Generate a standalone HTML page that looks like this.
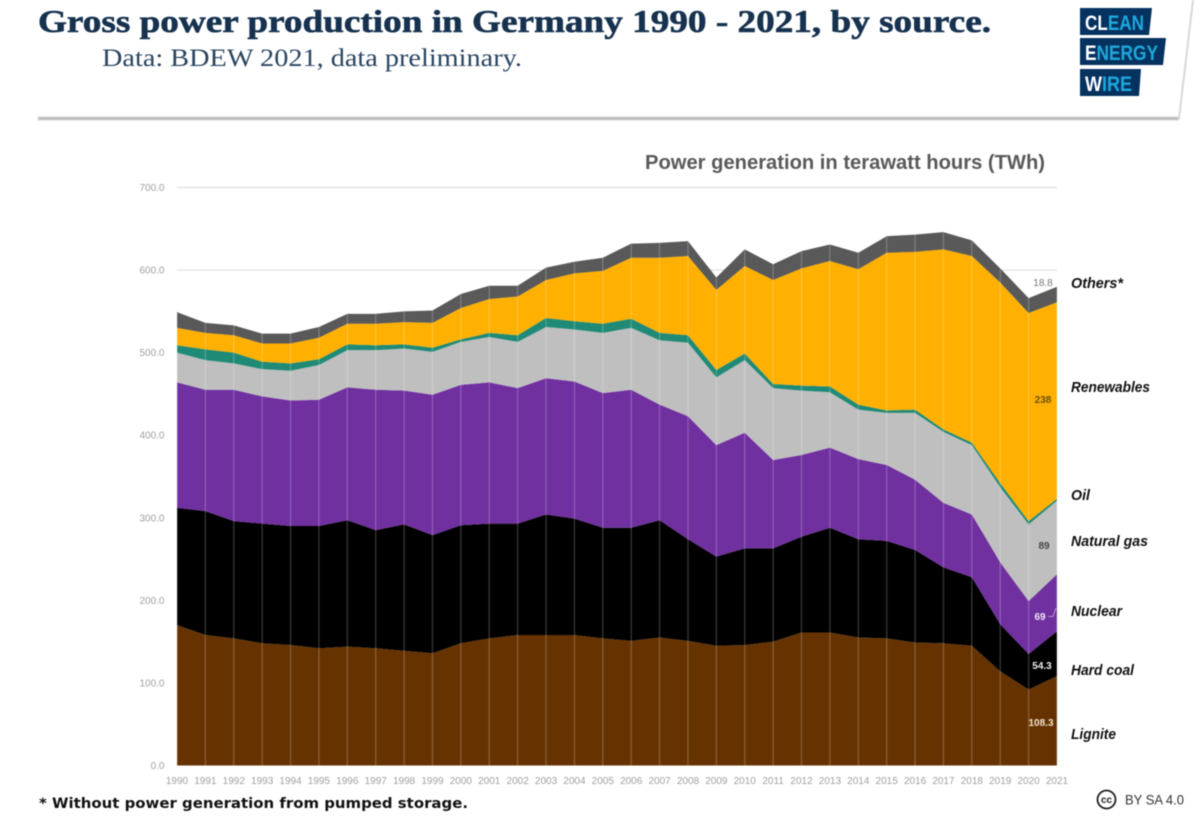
<!DOCTYPE html>
<html lang="en">
<head>
<meta charset="utf-8">
<title>Gross power production in Germany 1990 - 2021, by source</title>
<style>
html,body{margin:0;padding:0;background:#fff;width:1200px;height:817px;overflow:hidden}
svg{display:block;filter:blur(0.45px)}
text{font-family:"Liberation Sans",sans-serif}
.serif{font-family:"Liberation Serif",serif}
.lbl{font-weight:bold;font-style:italic;font-size:14.5px;fill:#111}
.tick{font-size:10px;fill:#a0a0a0}
.val{font-size:10px;font-weight:bold;text-anchor:middle}
</style>
</head>
<body>
<svg id="chart" xmlns="http://www.w3.org/2000/svg" width="1200" height="817" viewBox="0 0 1200 817">
  <defs>
    <filter id="soft" filterUnits="userSpaceOnUse" x="0" y="100" width="1200" height="40"><feGaussianBlur stdDeviation="0.8"/></filter>
  </defs>
  <rect width="1200" height="817" fill="#fff"/>
  <rect x="38" y="117" width="1141" height="3" fill="#b4b4b4" filter="url(#soft)"/>
  <path d="M1179 118.5L1193 0" fill="none" stroke="#d8d8d8" stroke-width="2"/>
  <text class="serif" x="38" y="32" font-size="32" font-weight="bold" fill="#16324f" stroke="#16324f" stroke-width="0.6" textLength="953" lengthAdjust="spacingAndGlyphs">Gross power production in Germany 1990 - 2021, by source.</text>
  <text class="serif" x="102" y="66" font-size="25" fill="#2a4560" textLength="420" lengthAdjust="spacingAndGlyphs">Data: BDEW 2021, data preliminary.</text>

  <g>
    <polygon points="1080,8 1152,8 1149,35 1080,35" fill="#06325f"/>
    <polygon points="1080,38 1166,38 1163,65 1080,65" fill="#06325f"/>
    <polygon points="1080,69 1141,69 1139,96 1080,96" fill="#06325f"/>
    <text x="1085" y="30" font-size="21" font-weight="bold" fill="#1ea8dd" textLength="59" lengthAdjust="spacingAndGlyphs"><tspan fill="#fff">CL</tspan>EAN</text>
    <text x="1085" y="60" font-size="21" font-weight="bold" fill="#1ea8dd" textLength="73" lengthAdjust="spacingAndGlyphs"><tspan fill="#fff">E</tspan>NERGY</text>
    <text x="1085" y="91" font-size="21" font-weight="bold" fill="#1ea8dd" textLength="47" lengthAdjust="spacingAndGlyphs"><tspan fill="#fff">W</tspan>IRE</text>
  </g>

  <text x="645" y="169" font-size="20" font-weight="bold" fill="#595959" textLength="400" lengthAdjust="spacingAndGlyphs">Power generation in terawatt hours (TWh)</text>

  <g id="grid"></g>
  <g id="yticks"></g>
  <g id="areas"></g>
  <g id="drops"></g>
  <g id="xticks"></g>

  <g>
    <text class="val" x="1043" y="286" style="font-weight:normal" fill="#777">18.8</text>
    <text class="val" x="1043" y="403" fill="#6b5210">238</text>
    <text class="val" x="1044" y="549" fill="#444">89</text>
    <text class="val" x="1040" y="620" fill="#f0e6f7">69</text>
    <path d="M1048 616.500H1053L1056 608" fill="none" stroke="#c9b3dc" stroke-width="0.800"/>
    <text class="val" x="1042" y="669" fill="#eee">54.3</text>
    <text class="val" x="1041" y="726" fill="#f2e3d0">108.3</text>
  </g>

  <g>
    <text class="lbl" x="1071" y="288" textLength="52" lengthAdjust="spacingAndGlyphs">Others*</text>
    <text class="lbl" x="1071" y="392" textLength="79" lengthAdjust="spacingAndGlyphs">Renewables</text>
    <text class="lbl" x="1071" y="500" textLength="19" lengthAdjust="spacingAndGlyphs">Oil</text>
    <text class="lbl" x="1071" y="546" textLength="77" lengthAdjust="spacingAndGlyphs">Natural gas</text>
    <text class="lbl" x="1071" y="616" textLength="51" lengthAdjust="spacingAndGlyphs">Nuclear</text>
    <text class="lbl" x="1071" y="675" textLength="63" lengthAdjust="spacingAndGlyphs">Hard coal</text>
    <text class="lbl" x="1071" y="739" textLength="45" lengthAdjust="spacingAndGlyphs">Lignite</text>
  </g>

  <text x="39" y="808" style="font-family:'DejaVu Sans',sans-serif" font-size="14.500" font-weight="bold" fill="#111" textLength="429" lengthAdjust="spacingAndGlyphs">* Without power generation from pumped storage.</text>
  <g>
    <circle cx="1106.500" cy="799.500" r="9" fill="#fff" stroke="#222" stroke-width="1.800"/>
    <text x="1106.500" y="803" font-size="10" font-weight="bold" fill="#222" text-anchor="middle">cc</text>
    <text x="1125" y="804.500" font-size="14" fill="#333" textLength="59" lengthAdjust="spacingAndGlyphs">BY SA 4.0</text>
  </g>
</svg>
<script>
var years = [1990,1991,1992,1993,1994,1995,1996,1997,1998,1999,2000,2001,2002,2003,2004,2005,2006,2007,2008,2009,2010,2011,2012,2013,2014,2015,2016,2017,2018,2019,2020,2021];
var lignite = [170,158,154,148,146,142,144,142,139,136,148,154,158,158,158,154,151,155,151,145,146,150,161,161,155,154,149,148,145,114,92,108.3];
var hardCoal = [142,150,142,145,144,148,153,143,153,143,143,139,135,146,141,134,137,142,123,108,117,113,116,127,119,118,112,92,83,57,43,54.3];
var nuclear = [152,147,159,154,152,153,161,170,162,170,170,171,164,165,166,163,167,140,149,135,140,107,99,97,97,92,85,78,76,75,64,69];
var naturalGas = [36,36,32,33,36,42,45,48,51,52,52,55,56,62,63,73,75,78,89,82,88,87,78,67,60,63,81,86,84,91,93,89];
var oil = [9,13,13,9,9,7,7,6,5,5,3,5,8,11,10,11,11,9,9,9,8,5,6,7,6,3,4,3,3,5,4,2.4];
var renewables = [21,20,21,22,24,26,25,26,27,30,38,41,47,46,58,64,74,91,96,97,106,126,142,152,164,191,191,218,226,243,252,238];
var others = [19,12,12,12,12,13,12,12,13,15,17,16,13,15,14,16,17,18,18,15,20,19,21,20,20,20,21,21,19,17,18,18.8];
var yTickValues = [0,100,200,300,400,500,600,700];
var gridValues = [600,700];

var NS = 'http://www.w3.org/2000/svg';
function xScale(i){ return 177 + (1057 - 177) * i / (years.length - 1); }
function yScale(v){ return 765.5 - v * (765.5 - 187.5) / 700; }
function make(tag, parent){
  var el = document.createElementNS(NS, tag);
  document.getElementById(parent).appendChild(el);
  return el;
}

gridValues.forEach(function(v){
  var l = make('line', 'grid');
  
  
  l.setAttribute('x1', 177);
  l.setAttribute('x2', 1057);
  l.setAttribute('y1', yScale(v));
  l.setAttribute('y2', yScale(v));
  l.setAttribute('stroke', '#dedede');
  l.setAttribute('stroke-width', 1.2);
});

yTickValues.forEach(function(v){
  var t = make('text', 'yticks');
  
  
  t.setAttribute('class', 'tick');
  t.setAttribute('x', 164.5);
  t.setAttribute('y', yScale(v) + 3.5);
  t.setAttribute('text-anchor', 'end');
  t.textContent = v.toFixed(1);
});

var stack = [
  ['lignite', lignite, '#663300'],
  ['hard-coal', hardCoal, '#000000'],
  ['nuclear', nuclear, '#7030a0'],
  ['natural-gas', naturalGas, '#bfbfbf'],
  ['oil', oil, '#1f8a76'],
  ['renewables', renewables, '#ffb000'],
  ['others', others, '#595959']
];
var base = years.map(function(){ return 0; });
stack.forEach(function(s){
  var top = base.map(function(b, i){ return b + s[1][i]; });
  var pts = [];
  top.forEach(function(v, i){ pts.push(xScale(i).toFixed(2) + ',' + yScale(v).toFixed(2)); });
  for (var i = base.length - 1; i >= 0; i--) { pts.push(xScale(i).toFixed(2) + ',' + yScale(base[i]).toFixed(2)); }
  var p = make('polygon', 'areas');
  
  
  p.setAttribute('points', pts.join(' '));
  p.setAttribute('fill', s[2]);
  base = top;
});

years.forEach(function(y, i){
  var d = make('line', 'drops');
  
  
  d.setAttribute('x1', xScale(i));
  d.setAttribute('x2', xScale(i));
  d.setAttribute('y1', yScale(base[i]));
  d.setAttribute('y2', 770);
  d.setAttribute('stroke', '#ffffff');
  d.setAttribute('stroke-opacity', '0.2');
  d.setAttribute('stroke-width', 1.4);
  var t = make('text', 'xticks');
  
  
  t.setAttribute('class', 'tick');
  t.setAttribute('x', xScale(i));
  t.setAttribute('y', 784);
  t.setAttribute('text-anchor', 'middle');
  t.textContent = y;
});
</script>
</body>
</html>
